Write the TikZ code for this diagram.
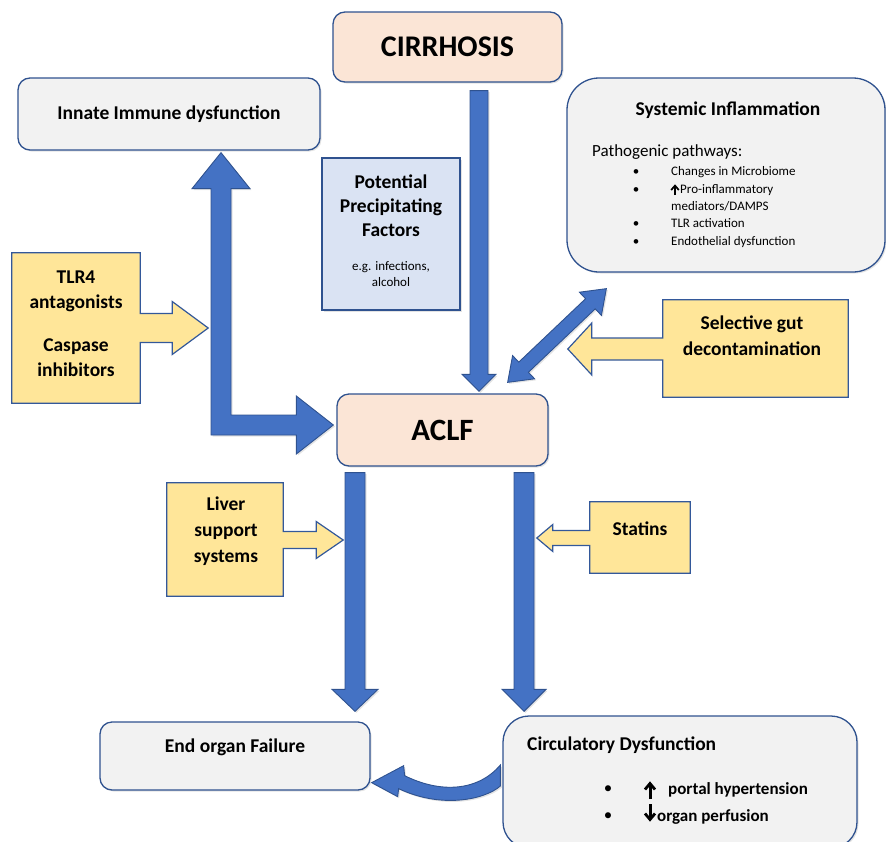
\documentclass[tikz,border=0pt]{standalone}
\usepackage{fontspec}
\setmainfont{Carlito}
\usetikzlibrary{calc,shadows}
\definecolor{bfill}{HTML}{4472C4}
\definecolor{bline}{HTML}{2F528F}
\definecolor{peach}{HTML}{FBE5D6}
\definecolor{greyf}{HTML}{F2F2F2}
\definecolor{lblue}{HTML}{DAE3F3}
\definecolor{yel}{HTML}{FFE699}
\tikzset{
 shad/.style={drop shadow={opacity=0.22, shadow xshift=1.5pt, shadow yshift=-1.5pt}},
 boxbase/.style={draw=bline, line width=1.3pt, inner sep=0pt, shad},
 roundbox/.style={boxbase, rounded corners=12pt},
 bluearr/.style={fill=bfill, draw=bline, line width=0.9pt, line join=miter, shad},
 ycall/.style={fill=yel, draw=bline!80!bfill, line width=1.2pt, line join=miter},
 bt/.style={font=\fontsize{19.5}{25.5}\selectfont\bfseries, align=center, inner sep=0pt},
 small/.style={font=\fontsize{13}{16}\selectfont, inner sep=0pt, text height=9pt, text depth=3pt},
 glyph/.style={line width=#1, line cap=butt, line join=miter},
}
% straight block arrow: from, to (tip), half shaft, half head, head length
\newcommand\sarrow[5]{%
 \coordinate (hb) at ($(#2)!#5pt!(#1)$);
 \path[bluearr] ($(#1)!#3pt!90:(#2)$) -- ($(hb)!#3pt!90:(#2)$) -- ($(hb)!#4pt!90:(#2)$) -- (#2)
   -- ($(hb)!#4pt!-90:(#2)$) -- ($(hb)!#3pt!-90:(#2)$) -- ($(#1)!#3pt!-90:(#2)$) -- cycle;}
% double block arrow
\newcommand\darrow[5]{%
 \coordinate (ha) at ($(#1)!#5pt!(#2)$);
 \coordinate (hb) at ($(#2)!#5pt!(#1)$);
 \path[bluearr] (#1) -- ($(ha)!#4pt!90:(#2)$) -- ($(ha)!#3pt!90:(#2)$) -- ($(hb)!#3pt!90:(#2)$)
   -- ($(hb)!#4pt!90:(#2)$) -- (#2) -- ($(hb)!#4pt!-90:(#2)$) -- ($(hb)!#3pt!-90:(#2)$)
   -- ($(ha)!#3pt!-90:(#2)$) -- ($(ha)!#4pt!-90:(#2)$) -- cycle;}
% yellow box with right-pointing arrow: node, dy, shaft half, shaft length, head half, head length
\newcommand\rcall[6]{%
 \draw[ycall] (#1.north west) -- (#1.north east) -- ($(#1.east)+(0,#2-#3)$) -- ($(#1.east)+(#4,#2-#3)$)
  -- ($(#1.east)+(#4,#2-#5)$) -- ($(#1.east)+(#4+#6,#2)$) -- ($(#1.east)+(#4,#2+#5)$)
  -- ($(#1.east)+(#4,#2+#3)$) -- ($(#1.east)+(0,#2+#3)$) -- (#1.south east) -- (#1.south west) -- cycle;}
\newcommand\lcall[6]{%
 \draw[ycall] (#1.north east) -- (#1.north west) -- ($(#1.west)+(0,#2-#3)$) -- ($(#1.west)+(-#4,#2-#3)$)
  -- ($(#1.west)+(-#4,#2-#5)$) -- ($(#1.west)+(-#4-#6,#2)$) -- ($(#1.west)+(-#4,#2+#5)$)
  -- ($(#1.west)+(-#4,#2+#3)$) -- ($(#1.west)+(0,#2+#3)$) -- (#1.south west) -- (#1.south east) -- cycle;}

\begin{document}
\begin{tikzpicture}[x=1pt,y=-1pt]
\useasboundingbox (0,0) rectangle (886,841);

% ---------- boxes ----------
\node[roundbox, fill=peach, minimum width=229pt, minimum height=70pt] (cirr) at (447.5,47)
  {\fontsize{30}{34}\selectfont\bfseries CIRRHOSIS};
\node[roundbox, fill=greyf, minimum width=302pt, minimum height=72pt] (innate) at (169,114)
  {\fontsize{19.5}{24}\selectfont\bfseries Innate Immune dysfunction};
\node[boxbase, rounded corners=32pt, fill=greyf, minimum width=318pt, minimum height=194pt] (sys) at (726,175) {};
\node[boxbase, fill=lblue, minimum width=138pt, minimum height=152pt] (pot) at (391,234) {};
\node[roundbox, fill=peach, minimum width=211pt, minimum height=72pt] (aclf) at (442.5,430)
  {\fontsize{31}{34}\selectfont\bfseries ACLF};
\node[roundbox, fill=greyf, minimum width=270pt, minimum height=68pt] (endorg) at (235,756) {};
\node[boxbase, rounded corners=26pt, fill=greyf, minimum width=354pt, minimum height=132pt] (circ) at (680,782) {};

% yellow holders
\node[inner sep=0pt, minimum width=128pt, minimum height=150pt] (tlr) at (76,328) {};
\node[inner sep=0pt, minimum width=116pt, minimum height=113pt] (liver) at (225,539.5) {};
\node[inner sep=0pt, minimum width=185pt, minimum height=97pt] (gut) at (755.5,348.5) {};
\node[inner sep=0pt, minimum width=100pt, minimum height=71pt] (stat) at (640,537.5) {};

% ---------- blue arrows ----------
\coordinate (c1) at ($(cirr.south)+(31.5,8)$);
\coordinate (c2) at ($(aclf.north)+(36.5,-2)$);
\sarrow{c1}{c2}{9}{17}{17}
\coordinate (l1) at ($(aclf.south)+(-87.5,6)$);
\coordinate (l2) at ($(endorg.north)+(120,-10)$);
\sarrow{l1}{l2}{10}{23}{22}
\coordinate (r1) at ($(aclf.south)+(81.5,6)$);
\coordinate (r2) at ($(circ.north)+(-156,-4)$);
\sarrow{r1}{r2}{10}{22}{22}
\coordinate (dA) at ($(aclf.north east)+(-41,-11)$);
\coordinate (dB) at ($(sys.south west)+(40,16)$);
\darrow{dA}{dB}{7}{16}{22}
% elbow arrow
\coordinate (upTip) at ($(innate.south)+(52,2)$);
\coordinate (rTip) at ($(aclf.west)+(-3,-5)$);
\path[bluearr] let \p1=(upTip), \p2=(rTip) in
 (\x1-10pt,\y1-36pt) -- (\x1-29pt,\y1-36pt) -- (\p1) -- (\x1+29pt,\y1-36pt) -- (\x1+10pt,\y1-36pt)
 -- (\x1+10pt,\y2+10pt) -- (\x2-37pt,\y2+10pt) -- (\x2-37pt,\y2+29pt) -- (\p2)
 -- (\x2-37pt,\y2-29pt) -- (\x2-37pt,\y2-10pt) -- (\x1-10pt,\y2-10pt) -- cycle;
% curved arrow
\coordinate (cA) at ($(circ.west)+(-2,-17)$);
\coordinate (cT) at ($(endorg.south east)+(1,-8)$);
\path[bluearr] (cA) .. controls ($(cA)+(-23,27)$) and ($(cA)+(-61,28)$) .. ($(cT)+(33,-7)$)
 -- ($(cT)+(32,-17)$) -- (cT) -- ($(cT)+(26,14)$) -- ($(cT)+(27,6)$)
 .. controls ($(cT)+(69,26)$) and ($(cA)+(-16,35)$) .. ($(cA)+(0,21)$) -- cycle;

% ---------- yellow callouts ----------
\rcall{tlr}{0}{14.5}{32}{26.5}{36}
\rcall{liver}{0.5}{8.5}{33}{18.5}{27}
\lcall{gut}{0.5}{11}{71}{26}{24}
\lcall{stat}{0.5}{7.5}{37}{13.5}{16}

% ---------- texts ----------
\node[bt, font=\fontsize{19.5}{24}\selectfont\bfseries] (pottxt) at (391,206) {Potential\\Precipitating\\Factors};
\node[align=center, inner sep=0pt, font=\fontsize{13}{16}\selectfont] (potsub) at (391,274) {e.g. infections,\\alcohol};
\node[bt] (tlrtxt) at (76,323.5) {TLR4\\antagonists\\[17pt]Caspase\\inhibitors};
\node[bt, font=\fontsize{19.5}{26}\selectfont\bfseries] (livertxt) at (226,531) {Liver\\support\\systems};
\node[bt, font=\fontsize{19.5}{26}\selectfont\bfseries] (guttxt) at (752,336) {Selective gut\\decontamination};
\node[bt] (stattxt) at (640,529) {Statins};
\node[bt] (endtxt) at (235,747) {End organ Failure};

\node[bt] (systitle) at (728,110) {Systemic Inflammation};
\node[anchor=west, inner sep=0pt, font=\fontsize{17}{20}\selectfont] (pathw) at (592,152) {Pathogenic pathways:};
\foreach \yy/\nm in {172/s1,190/s2,224/s3,242/s4}{
  \node[small] (\nm) at (636,\yy) {•};
}
\node[small, anchor=west] (i1) at (671,172) {Changes in Microbiome};
% small bold up-arrow before Pro-inflammatory
\draw[glyph=1.7pt] (675,195) -- (675,187);
\draw[glyph=1.7pt] (671.2,190) -- (675,185.6) -- (678.8,190);
\node[small, anchor=west] (i2) at (680,190) {Pro-inflammatory};
\node[small, anchor=west] (i3) at (671,207) {mediators/DAMPS};
\node[small, anchor=west] (i4) at (671,224) {TLR activation};
\node[small, anchor=west] (i5) at (671,242) {Endothelial dysfunction};

\node[bt, anchor=west] (circtitle) at (527,745) {Circulatory Dysfunction};
\node[inner sep=0pt, font=\fontsize{17}{20}\selectfont] (cb1) at (608,790) {•};
\node[inner sep=0pt, font=\fontsize{17}{20}\selectfont] (cb2) at (608,817) {•};
% bold up / down arrows
\draw[glyph=3pt] (650,799) -- (650,785);
\draw[glyph=2.8pt] (645,789.5) -- (650,783.5) -- (655,789.5);
\draw[glyph=3pt] (650,804) -- (650,818);
\draw[glyph=2.8pt] (645,813.5) -- (650,819.5) -- (655,813.5);
\node[inner sep=0pt, anchor=west, font=\fontsize{17}{20}\selectfont\bfseries, text height=12pt, text depth=4pt] (ph) at (668,790) {portal hypertension};
\node[inner sep=0pt, anchor=west, font=\fontsize{17}{20}\selectfont\bfseries, text height=12pt, text depth=4pt] (op) at (657,817) {organ perfusion};
\end{tikzpicture}
\end{document}
